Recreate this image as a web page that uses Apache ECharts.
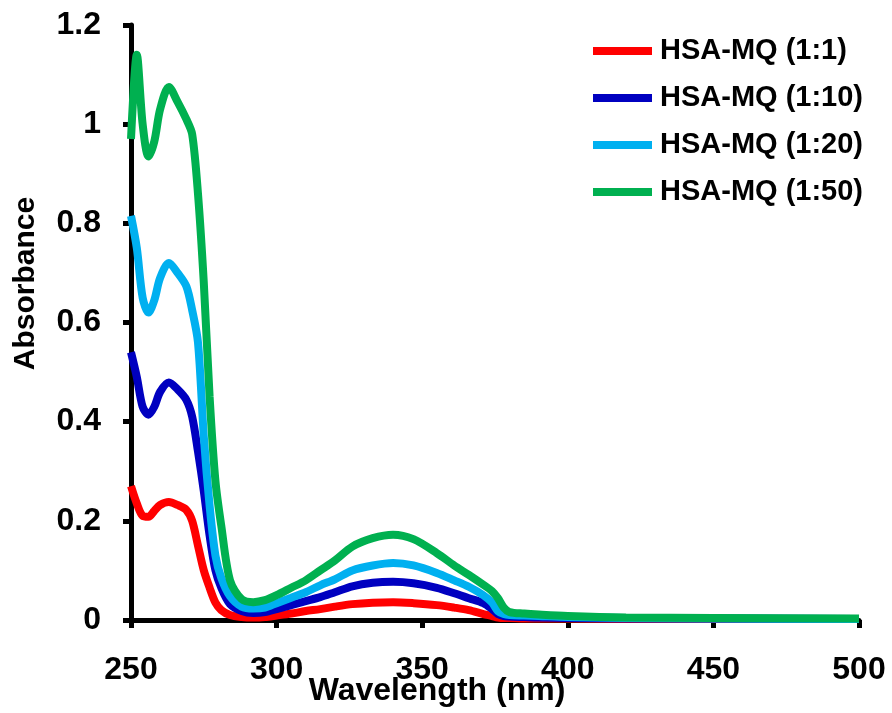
<!DOCTYPE html>
<html>
<head>
<meta charset="utf-8">
<script src="https://cdn.jsdelivr.net/npm/echarts@6/dist/echarts.min.js"></script>
<style>
  html, body { margin: 0; padding: 0; background: #fff; }
  #chart { width: 892px; height: 713px; }
</style>
</head>
<body>
<div id="chart"></div>
<script>
const wavelengths = [250, 252, 254, 256, 258, 260, 263, 266, 269, 271, 273, 275, 277, 279, 281, 284, 288, 292, 296, 300,
    305, 310, 315, 320, 326, 333, 340, 347, 355, 361, 366, 371, 374, 376, 378, 380, 385, 390, 400, 420, 450, 500];

const ratio1 = [0.27, 0.235, 0.21, 0.208, 0.22, 0.232, 0.238, 0.232, 0.222, 0.2, 0.15, 0.1, 0.065, 0.035, 0.02, 0.01, 0.006, 0.005, 0.006, 0.009,
    0.013, 0.018, 0.022, 0.027, 0.032, 0.035, 0.036, 0.034, 0.03, 0.025, 0.02, 0.012, 0.008, 0.005, 0.004, 0.004, 0.003, 0.003, 0.003, 0.002, 0.002, 0.002];
const ratio10 = [0.54, 0.49, 0.43, 0.414, 0.43, 0.46, 0.479, 0.465, 0.444, 0.41, 0.34, 0.26, 0.17, 0.1, 0.065, 0.032, 0.018, 0.014, 0.016, 0.022,
    0.03, 0.038, 0.046, 0.056, 0.068, 0.075, 0.077, 0.074, 0.065, 0.054, 0.044, 0.034, 0.022, 0.012, 0.008, 0.007, 0.006, 0.005, 0.004, 0.003, 0.003, 0.002];
const ratio20 = [0.815, 0.75, 0.65, 0.62, 0.645, 0.69, 0.72, 0.7, 0.673, 0.625, 0.56, 0.37, 0.23, 0.13, 0.085, 0.048, 0.027, 0.023, 0.025, 0.034,
    0.045, 0.056, 0.07, 0.082, 0.1, 0.11, 0.115, 0.11, 0.095, 0.08, 0.067, 0.05, 0.035, 0.018, 0.012, 0.01, 0.009, 0.008, 0.006, 0.004, 0.003, 0.002];
const ratio50 = [0.97, 1.14, 1.0, 0.935, 0.965, 1.03, 1.075, 1.045, 1.01, 0.98, 0.86, 0.68, 0.45, 0.28, 0.19, 0.08, 0.042, 0.036, 0.04, 0.05,
    0.065, 0.08, 0.1, 0.12, 0.148, 0.165, 0.172, 0.163, 0.135, 0.11, 0.091, 0.071, 0.058, 0.044, 0.025, 0.016, 0.013, 0.011, 0.008, 0.005, 0.004, 0.003];

const seriesNames = ["HSA-MQ (1:1)", "HSA-MQ (1:10)", "HSA-MQ (1:20)", "HSA-MQ (1:50)"];
const seriesColors = ["#FF0000", "#0000C0", "#00B0F0", "#00B050"];
const seriesValues = [ratio1, ratio10, ratio20, ratio50];

const chart = echarts.init(document.getElementById("chart"));
const font = "Liberation Sans, Arial, sans-serif";

const option = {
    animation: false,
    grid: {
        left: 131,
        right: 33,
        top: 25,
        bottom: 93,
        outerBoundsMode: "none",
    },
    legend: {
        orient: "vertical",
        left: 593,
        top: 36,
        padding: 0,
        icon: "rect",
        itemWidth: 59,
        itemHeight: 8,
        itemGap: 17,
        textStyle: {
            fontFamily: font,
            fontWeight: "bold",
            fontSize: 29,
            lineHeight: 30,
            color: "#000",
            padding: [0, 0, 0, 3],
        },
        data: seriesNames,
    },
    xAxis: {
        type: "value",
        min: 250,
        max: 500,
        interval: 50,
        name: "Wavelength (nm)",
        nameLocation: "middle",
        nameGap: 55,
        nameMoveOverlap: false,
        nameTextStyle: {
            fontFamily: font,
            fontWeight: "bold",
            fontSize: 32,
            color: "#000",
            padding: [0, 116, 0, 0],
        },
        axisLine: { lineStyle: { color: "#000", width: 5 } },
        axisTick: { length: 8, lineStyle: { color: "#000", width: 5 } },
        axisLabel: {
            margin: 34,
            fontFamily: font,
            fontWeight: "bold",
            fontSize: 32,
            color: "#000",
        },
        splitLine: { show: false },
    },
    yAxis: {
        type: "value",
        min: 0,
        max: 1.2,
        interval: 0.2,
        name: "Absorbance",
        nameLocation: "middle",
        nameGap: 90,
        nameMoveOverlap: false,
        nameTextStyle: {
            fontFamily: font,
            fontWeight: "bold",
            fontSize: 30,
            color: "#000",
            padding: [0, 0, 0, 78],
        },
        axisLine: { show: true, lineStyle: { color: "#000", width: 5 } },
        axisTick: { show: true, length: 8, lineStyle: { color: "#000", width: 5 } },
        axisLabel: {
            margin: 30,
            fontFamily: font,
            fontWeight: "bold",
            fontSize: 32,
            color: "#000",
            padding: [10, 0, 0, 0],
        },
        splitLine: { show: false },
    },
    series: seriesNames.map(function (name, i) {
        return {
            name: name,
            type: "line",
            data: wavelengths.map(function (w, j) { return [w, seriesValues[i][j]]; }),
            smooth: 0.3,
            showSymbol: false,
            lineStyle: { color: seriesColors[i], width: 8 },
            itemStyle: { color: seriesColors[i] },
            z: 2 + i,
        };
    }),
};

chart.setOption(option);
</script>
</body>
</html>
